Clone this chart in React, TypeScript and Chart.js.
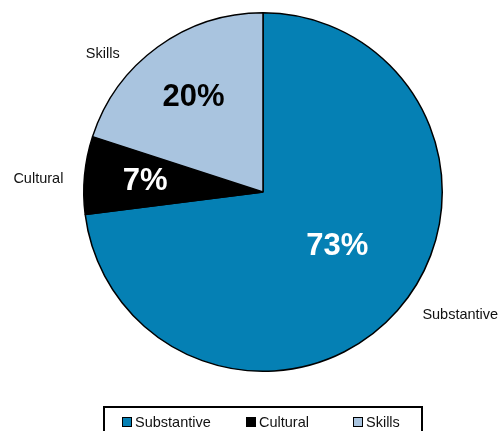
import React, { useEffect, useRef } from "react";
import { Chart, registerables } from "chart.js";

Chart.register(...registerables);

const categories = ["Substantive", "Cultural", "Skills"];
const shares = [73, 7, 20];
const sliceColors = ["#0580B4", "#000000", "#A9C4DF"];
const pctColors = ["#FFFFFF", "#FFFFFF", "#000000"];

const FONT = "Arial, 'Liberation Sans', sans-serif";

// pull an angle toward the nearest horizontal by the given factor
function toward(a: number, k: number) {
  a = Math.atan2(Math.sin(a), Math.cos(a));
  const left = Math.cos(a) < 0;
  const base = left ? (a > 0 ? Math.PI : -Math.PI) : 0;
  return base + (a - base) * k;
}

const labelPlugin = {
  id: "pieLabels",
  afterDatasetsDraw(chart: any) {
    const ctx = chart.ctx;
    const meta = chart.getDatasetMeta(0);
    ctx.save();
    meta.data.forEach((arc: any, i: number) => {
      const { x, y, startAngle, endAngle, outerRadius } = arc.getProps(
        ["x", "y", "startAngle", "endAngle", "outerRadius"],
        true
      );
      const mid = (startAngle + endAngle) / 2;
      const big = shares[i] > 50;
      const ia = big ? toward(mid, 0.86) : mid;
      const frac = big ? 0.51 : 0.66;
      const ix = x + Math.cos(ia) * outerRadius * frac;
      const iy = y + Math.sin(ia) * outerRadius * frac + 1;
      ctx.font = `bold 31px ${FONT}`;
      ctx.fillStyle = pctColors[i];
      ctx.textAlign = "center";
      ctx.textBaseline = "middle";
      ctx.fillText(shares[i] + "%", ix, iy);

      const left = Math.cos(mid) < 0;
      const a = toward(mid, left ? 0.82 : 0.9);
      const r = outerRadius + 21;
      const ox = x + Math.cos(a) * r;
      const oy = y + Math.sin(a) * r + 2;
      ctx.font = `14.5px ${FONT}`;
      ctx.fillStyle = "#111";
      ctx.textAlign = left ? "right" : "left";
      ctx.fillText(categories[i], ox, oy);
    });
    ctx.restore();
  },
};

const legendPlugin = {
  id: "boxLegend",
  afterDraw(chart: any) {
    const ctx = chart.ctx;
    ctx.save();
    ctx.strokeStyle = "#000";
    ctx.lineWidth = 2;
    ctx.strokeRect(104, 407, 318, 40);
    const xs = [122, 246, 353];
    ctx.font = `14.5px ${FONT}`;
    ctx.textBaseline = "middle";
    ctx.textAlign = "left";
    categories.forEach((c, i) => {
      ctx.fillStyle = sliceColors[i];
      ctx.fillRect(xs[i], 417, 10, 10);
      ctx.strokeStyle = "#000";
      ctx.lineWidth = 1;
      ctx.strokeRect(xs[i] + 0.5, 417.5, 9, 9);
      ctx.fillStyle = "#111";
      ctx.fillText(c, xs[i] + 13, 423);
    });
    ctx.restore();
  },
};

export default function App() {
  const ref = useRef<HTMLCanvasElement>(null);
  useEffect(() => {
    const chart = new Chart(ref.current!, {
      type: "pie",
      data: {
        labels: categories,
        datasets: [
          {
            data: shares,
            backgroundColor: sliceColors,
            borderColor: "#000",
            borderWidth: 1.5,
          },
        ],
      },
      options: {
        animation: false,
        responsive: false,
        maintainAspectRatio: false,
        layout: { padding: { top: 12, bottom: 59, left: 83, right: 58 } },
        plugins: {
          legend: { display: false },
          tooltip: { enabled: false },
        },
      },
      plugins: [labelPlugin, legendPlugin],
    });
    return () => chart.destroy();
  }, []);
  return (
    <div style={{ position: "absolute", left: 0, top: 0, width: 501, height: 431, background: "#fff" }}>
      <canvas ref={ref} width={501} height={431} style={{ width: 501, height: 431 }} />
    </div>
  );
}
